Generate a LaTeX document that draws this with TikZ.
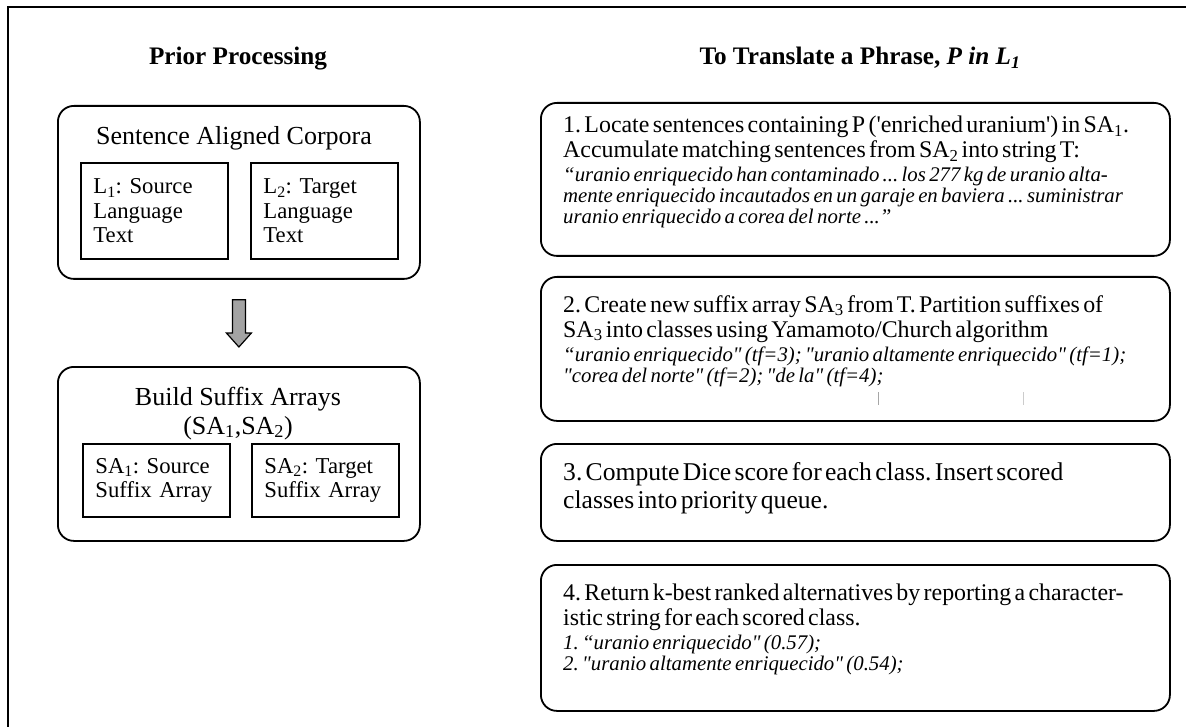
\documentclass[tikz,border=0pt]{standalone}
\usepackage{fontspec}
\setmainfont{Liberation Serif}
\usetikzlibrary{calc}
\setlength{\parindent}{0pt}
\setlength{\parskip}{0pt}
\frenchspacing
% font sizes (1pt = 1px of the picture)
\newcommand{\titlefont}{\fontsize{25.2}{28}\selectfont\bfseries}
\newcommand{\headfont}{\fontsize{26}{29}\selectfont}
\newcommand{\boxfont}{\fontsize{22.7}{24.5}\selectfont}
\newcommand{\stepfont}{\fontsize{23.9}{25}\selectfont}
\newcommand{\bigstepfont}{\fontsize{25.6}{28}\selectfont}
\newcommand{\exfont}{\fontsize{20.8}{21}\selectfont\itshape}
% one justified line, one ragged line
\newcommand{\jline}[1]{\makebox[\hsize][s]{#1}\par}
\newcommand{\rline}[1]{\mbox{#1}\par}
\begin{document}
\begin{tikzpicture}[x=1pt, y=-1pt,
    groupbox/.style={draw, line width=1.8pt, rounded corners=16pt, inner sep=0pt, anchor=north west},
    stepbox/.style={draw, line width=1.8pt, rounded corners=16pt, inner sep=0pt, anchor=north west},
    inbox/.style={draw, line width=1.8pt, anchor=north west, inner xsep=12pt, inner ysep=0pt,
        text width=122pt, align=left, font=\boxfont},
    steptext/.style={anchor=north west, inner sep=0pt, text width=582pt},
    titletext/.style={anchor=base, font=\titlefont},
    headtext/.style={anchor=base, font=\headfont},
    flowarrow/.style={draw, line width=1.2pt, fill=black!36, line join=miter}]
    \useasboundingbox (0,0) rectangle (1186,727);
    % the frame
    \draw[line width=2pt] (1186,7.5) -- (7.5,7.5) -- (7.5,727);

    % titles
    \node[titletext] (priortitle) at (238,65) {Prior Processing};
    \node[titletext] (phrasetitle) at (860,65) {To Translate a Phrase, \textit{P in L\textsubscript{1}}};

    % left column
    \node[groupbox, minimum width=362pt, minimum height=173pt] (corpora) at (57,105) {};
    \node[headtext] (corporahead) at (234,145) {Sentence Aligned Corpora};
    \node[inbox, minimum width=147pt, minimum height=96pt] (srctext) at (80,162)
        {L\textsubscript{1}: Source\\Language\\Text};
    \node[inbox, minimum width=147pt, minimum height=96pt] (tgttext) at (250,162)
        {L\textsubscript{2}: Target\\Language\\Text};

    \node[groupbox, minimum width=362pt, minimum height=174pt] (arrays) at (57,366) {};
    \node[headtext] (arrayshead) at (238,405) {Build Suffix Arrays};
    \node[headtext] (arrayspair) at (238,434) {(SA\textsubscript{1},SA\textsubscript{2})};
    \node[inbox, minimum width=147pt, minimum height=73pt] (srcarray) at (82,443)
        {SA\textsubscript{1}: Source\\Suffix Array};
    \node[inbox, minimum width=147pt, minimum height=73pt] (tgtarray) at (251,443)
        {SA\textsubscript{2}: Target\\Suffix Array};

    % the arrow between the two
    \coordinate (atop) at ($(corpora.south)+(0,20)$);
    \coordinate (atip) at ($(arrays.north)+(0,-19)$);
    \draw[flowarrow] ($(atop)+(-6.5,0)$) -- ($(atop)+(6.5,0)$) -- ($(atip)+(6.5,-14)$)
        -- ($(atip)+(12.5,-14)$) -- (atip) -- ($(atip)+(-12.5,-14)$) -- ($(atip)+(-6.5,-14)$) -- cycle;

    % right column: the four steps
    \node[stepbox, minimum width=629pt, minimum height=153pt] (locate) at (540,102) {};
    \node[steptext] (locatetext) at ($(locate.north west)+(23,14)$) {%
        {\stepfont
        \jline{1. Locate sentences containing P (\textquotesingle enriched uranium\textquotesingle) in SA\textsubscript{1}.}
        \rline{Accumulate matching sentences from SA\textsubscript{2} into string T:}}
        \vspace{3pt}
        {\exfont
        \jline{“uranio enriquecido han contaminado ... los 277 kg de uranio alta-}
        \jline{mente enriquecido incautados en un garaje en baviera ... suministrar}
        \rline{uranio enriquecido a corea del norte ...”}}};

    \node[stepbox, minimum width=629pt, minimum height=144pt] (partition) at (540,276) {};
    \node[steptext] (partitiontext) at ($(partition.north west)+(23,19)$) {%
        {\stepfont
        \jline{2. Create new suffix array SA\textsubscript{3} from T. Partition suffixes of}
        \rline{SA\textsubscript{3} into classes using Yamamoto/Church algorithm}}
        \vspace{3pt}
        {\exfont
        \rline{“uranio enriquecido\textquotedbl{} (tf=3); \textquotedbl uranio altamente enriquecido\textquotedbl{} (tf=1);}
        \rline{\textquotedbl corea del norte\textquotedbl{} (tf=2); \textquotedbl de la\textquotedbl{} (tf=4);}}};
    % stray marks
    \draw[black!35, line width=0.8pt] (878,392) -- (878,405);
    \draw[black!20, line width=0.8pt] (1023,392) -- (1023,405);

    \node[stepbox, minimum width=629pt, minimum height=97pt] (score) at (540,443) {};
    \node[steptext] (scoretext) at ($(score.north west)+(23,19)$) {%
        {\bigstepfont
        \rline{3. Compute Dice score for each class. Insert scored}
        \rline{classes into priority queue.}}};

    \node[stepbox, minimum width=629pt, minimum height=146pt] (rank) at (540,564) {};
    \node[steptext] (ranktext) at ($(rank.north west)+(23,20)$) {%
        {\stepfont
        \jline{4. Return k-best ranked alternatives by reporting a character-}
        \rline{istic string for each scored class.}}
        \vspace{3pt}
        {\exfont
        \rline{1. “uranio enriquecido\textquotedbl{} (0.57);}
        \rline{2. \textquotedbl uranio altamente enriquecido\textquotedbl{} (0.54);}}};
\end{tikzpicture}
\end{document}
